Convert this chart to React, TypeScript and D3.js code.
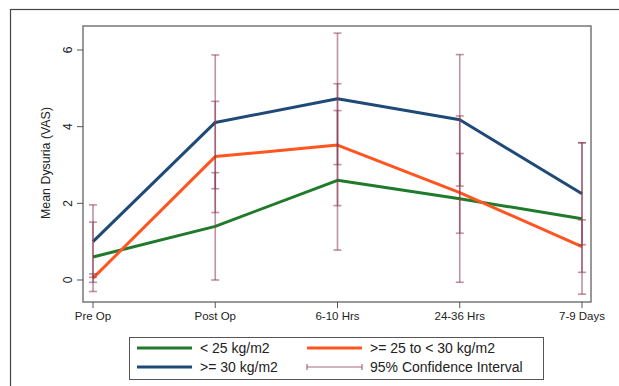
import React from "react";
import * as d3 from "d3";

const categories = ["Pre Op", "Post Op", "6-10 Hrs", "24-36 Hrs", "7-9 Days"];
const yTicks = [0, 2, 4, 6];

const seriesLt25 = [0.6, 1.4, 2.6, 2.12, 1.6];
const seriesMid = [0.05, 3.22, 3.52, 2.28, 0.87];
const seriesGe30 = [1.0, 4.11, 4.73, 4.18, 2.25];

const lt25Lo = [-0.3, 0.0, 0.78, -0.06, -0.37];
const lt25Hi = [1.51, 2.8, 4.42, 4.28, 3.58];
const midLo = [-0.06, 1.76, 1.94, 1.22, 0.2];
const midHi = [0.16, 4.66, 5.12, 3.3, 1.57];
const ge30Lo = [0.07, 2.38, 3.01, 2.45, 0.92];
const ge30Hi = [1.96, 5.87, 6.44, 5.88, 3.58];

const legendLabels = ["< 25 kg/m2", ">= 25 to < 30 kg/m2", ">= 30 kg/m2", "95% Confidence Interval"];

const W = 619;
const H = 386;
const plot = { left: 83, top: 26, right: 591, bottom: 302 };

const GREEN = "#1f7a2b";
const ORANGE = "#ff5520";
const BLUE = "#1f4a78";
const CI = "#8a3a50";
const FONT = "'Liberation Sans', Arial, Helvetica, sans-serif";

export default function App() {
  const x = d3.scalePoint<string>().domain(categories).range([93, 582]);
  const y = d3.scaleLinear().domain([-0.574, 6.626]).range([plot.bottom, plot.top]);

  const series = [
    { values: seriesLt25, color: GREEN },
    { values: seriesMid, color: ORANGE },
    { values: seriesGe30, color: BLUE },
  ];
  const cis = [
    { lo: lt25Lo, hi: lt25Hi },
    { lo: midLo, hi: midHi },
    { lo: ge30Lo, hi: ge30Hi },
  ];

  const line = d3
    .line<number>()
    .x((_, i) => x(categories[i]) as number)
    .y((d) => y(d));

  const capW = 4;

  return (
    <div style={{ position: "fixed", left: 0, top: 0, width: W, height: H, background: "#fff" }}>
      <svg width={W} height={H} style={{ display: "block" }} fontFamily={FONT}>
        <rect x={0} y={0} width={W} height={H} fill="#fff" />
        {/* outer frame */}
        <rect x={10.5} y={9.5} width={W} height={H} fill="none" stroke="#444" strokeWidth={1.2} />
        {/* plot frame */}
        <rect
          x={plot.left}
          y={plot.top}
          width={plot.right - plot.left}
          height={plot.bottom - plot.top}
          fill="#fff"
          stroke="#777"
          strokeWidth={1.5}
        />
        {/* y axis ticks */}
        {yTicks.map((t) => (
          <g key={"yt" + t}>
            <line x1={plot.left - 6} x2={plot.left} y1={y(t)} y2={y(t)} stroke="#555" strokeWidth={1} />
            <text
              transform={`translate(${plot.left - 11},${y(t)}) rotate(-90)`}
              textAnchor="middle"
              fontSize={12}
              fill="#222"
            >
              {t}
            </text>
          </g>
        ))}
        <text
          transform={`translate(50,163) rotate(-90)`}
          textAnchor="middle"
          fontSize={12.4}
          fill="#222"
        >
          Mean Dysuria (VAS)
        </text>
        {/* x axis ticks */}
        {categories.map((c) => (
          <g key={"xt" + c}>
            <line x1={x(c)} x2={x(c)} y1={plot.bottom} y2={plot.bottom + 6} stroke="#555" strokeWidth={1} />
            <text x={x(c)} y={plot.bottom + 18} textAnchor="middle" fontSize={11.5} fill="#222">
              {c}
            </text>
          </g>
        ))}
        {/* lines */}
        {series.map((s, i) => (
          <path key={"s" + i} d={line(s.values) || ""} fill="none" stroke={s.color} strokeWidth={3} strokeLinejoin="round" />
        ))}
        {/* confidence intervals */}
        {cis.map((ci, j) => (
          <g key={"ci" + j} stroke={CI} strokeOpacity={0.55} strokeWidth={1.6}>
            {categories.map((c, i) => {
              const cx = x(c) as number;
              return (
                <g key={c}>
                  <line x1={cx} x2={cx} y1={y(ci.lo[i])} y2={y(ci.hi[i])} />
                  <line x1={cx - capW} x2={cx + capW} y1={y(ci.lo[i])} y2={y(ci.lo[i])} />
                  <line x1={cx - capW} x2={cx + capW} y1={y(ci.hi[i])} y2={y(ci.hi[i])} />
                </g>
              );
            })}
          </g>
        ))}
        {/* legend */}
        <rect x={129.5} y={337.5} width={414} height={42} fill="#fff" stroke="#555" strokeWidth={1} />
        <line x1={137} x2={192} y1={348} y2={348} stroke={GREEN} strokeWidth={3} />
        <text x={200} y={353} fontSize={14} fill="#222">{legendLabels[0]}</text>
        <line x1={307} x2={362} y1={348} y2={348} stroke={ORANGE} strokeWidth={3} />
        <text x={370} y={353} fontSize={14} fill="#222">{legendLabels[1]}</text>
        <line x1={137} x2={192} y1={367} y2={367} stroke={BLUE} strokeWidth={3} />
        <text x={200} y={372} fontSize={14} fill="#222">{legendLabels[2]}</text>
        <g stroke={CI} strokeOpacity={0.75} strokeWidth={1.2}>
          <line x1={307} x2={362} y1={367} y2={367} />
          <line x1={307} x2={307} y1={364} y2={370} />
          <line x1={362} x2={362} y1={364} y2={370} />
        </g>
        <text x={370} y={372} fontSize={14} fill="#222">{legendLabels[3]}</text>
      </svg>
    </div>
  );
}
